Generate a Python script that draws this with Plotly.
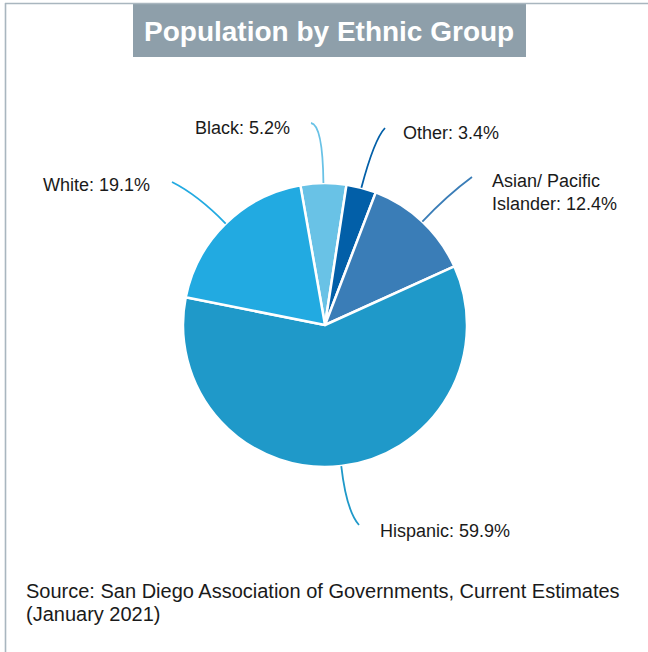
import math
import plotly.graph_objects as go

W, H = 648, 652

# ---- data ----
labels = ["Black", "Other", "Asian/ Pacific Islander", "Hispanic", "White"]
label_text = ["Black: 5.2%", "Other: 3.4%", "Asian/ Pacific<br>Islander: 12.4%",
              "Hispanic: 59.9%", "White: 19.1%"]
values = [5.2, 3.4, 12.4, 59.9, 19.1]
colors = ["#69C2E6", "#025FA8", "#3A7DB7", "#1F99C9", "#22AAE1"]

title_text = "Population by Ethnic Group"
source_lines = ["Source: San Diego Association of Governments, Current Estimates",
                "(January 2021)"]

# ---- layout geometry (pixels) ----
cx, cy, r = 325, 325, 142
rotation = -10
# label anchor (text side) points for the leader lines, and text positions
line_ends = [(311, 123), (385, 128), (472, 177), (359, 525), (172, 182)]
ctrl_dist = [58, 50, 36, 45, 40]
text_pos = [  # x, y, xanchor
    (242, 128, "center"),
    (401, 133, "left"),
    (490, 192, "left"),
    (378, 531, "left"),
    (41, 185, "left"),
]
source_pos = [(24, 591), (24, 614)]


def px2paper(x, y):
    return x / W, 1 - y / H


fig = go.Figure()
fig.add_trace(go.Pie(
    labels=labels, values=values, sort=False, direction="clockwise",
    rotation=rotation, textinfo="none", hoverinfo="none",
    marker=dict(colors=colors, line=dict(color="white", width=2.5)),
    domain=dict(x=[(cx - r) / W, (cx + r) / W], y=[1 - (cy + r) / H, 1 - (cy - r) / H]),
    showlegend=False,
))

shapes = []
annotations = []
total = sum(values)
start = rotation
for i, v in enumerate(values):
    span = v / total * 360
    mid = math.radians(start + span / 2)
    start += span
    ex, ey = cx + r * math.sin(mid), cy - r * math.cos(mid)
    d = ctrl_dist[i]
    qx, qy = ex + d * math.sin(mid), ey - d * math.cos(mid)
    lx, ly = line_ends[i]
    p0 = px2paper(ex, ey)
    p1 = px2paper(qx, qy)
    p2 = px2paper(lx, ly)
    shapes.append(dict(
        type="path", xref="paper", yref="paper",
        path=f"M {p0[0]},{p0[1]} Q {p1[0]},{p1[1]} {p2[0]},{p2[1]}",
        line=dict(color=colors[i], width=1.8),
    ))
    tx, ty, xa = text_pos[i]
    px_, py_ = px2paper(tx, ty)
    annotations.append(dict(
        x=px_, y=py_, xref="paper", yref="paper", text=label_text[i],
        showarrow=False, xanchor=xa, yanchor="middle", align="left",
        font=dict(family="Liberation Sans, Arial", size=18, color="#1a1a1a"),
    ))

# frame lines (top and left)
shapes.append(dict(type="line", xref="paper", yref="paper",
                   x0=5 / W, x1=1, y0=1 - 3.5 / H, y1=1 - 3.5 / H,
                   line=dict(color="#A9B6BF", width=1.6)))
shapes.append(dict(type="line", xref="paper", yref="paper",
                   x0=5.5 / W, x1=5.5 / W, y0=0, y1=1 - 3 / H,
                   line=dict(color="#A9B6BF", width=1.6)))
# title box
shapes.append(dict(type="rect", xref="paper", yref="paper",
                   x0=133 / W, x1=526 / W, y0=1 - 57 / H, y1=1 - 4 / H,
                   fillcolor="#8E9FAA", line=dict(width=0), layer="below"))

annotations.append(dict(
    x=329 / W, y=1 - 31 / H, xref="paper", yref="paper",
    text=f"<b>{title_text}</b>", showarrow=False, xanchor="center", yanchor="middle",
    font=dict(family="Liberation Sans, Arial", size=28, color="white"),
))
for line, (sx, sy) in zip(source_lines, source_pos):
    px_, py_ = px2paper(sx, sy)
    annotations.append(dict(
        x=px_, y=py_, xref="paper", yref="paper",
        text=line, showarrow=False, xanchor="left", yanchor="middle", align="left",
        font=dict(family="Liberation Sans, Arial", size=20, color="#1a1a1a"),
    ))

fig.update_layout(
    width=W, height=H, margin=dict(l=0, r=0, t=0, b=0),
    paper_bgcolor="white", plot_bgcolor="white",
    shapes=shapes, annotations=annotations,
)

fig.write_html("out.html")
